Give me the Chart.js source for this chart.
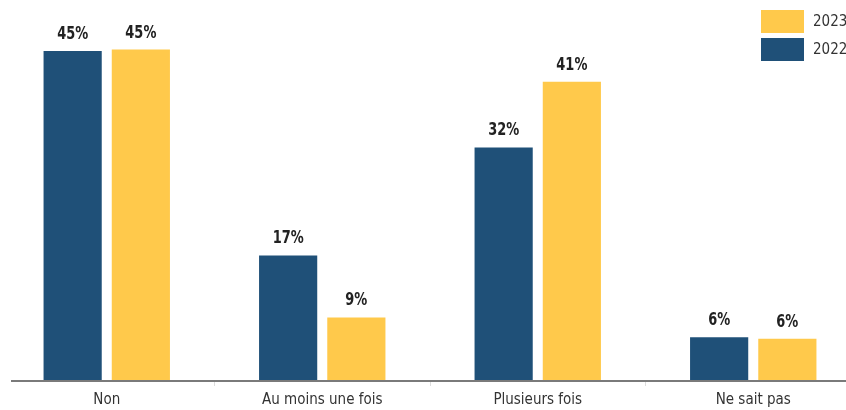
<!DOCTYPE html>
<html>
<head>
<meta charset="utf-8">
<script src="https://cdn.jsdelivr.net/npm/chart.js@4.4.0/dist/chart.umd.min.js"></script>
<style>
  html, body { margin: 0; padding: 0; background: #fff; }
  #wrap { position: relative; width: 846px; height: 410px; overflow: hidden; }
  #chart { position: absolute; left: -1px; top: 0; }
</style>
</head>
<body>
<div id="wrap"><canvas id="chart" width="862" height="410"></canvas></div>
<script>
// Chart data
const categories = ['Non', 'Au moins une fois', 'Plusieurs fois', 'Ne sait pas'];
const values2022 = [45.2, 17.2, 32, 6];
const values2023 = [45.4, 8.7, 41, 5.8];
const seriesNames = ['2022', '2023'];

const BLUE = '#1f5078';
const YELLOW = '#ffc94b';
const FONT = '"DejaVu Sans Condensed", "Liberation Sans Narrow", sans-serif';

// Values above bars (narrow bold look)
const valueLabels = {
    id: 'valueLabels',
    afterDatasetsDraw(chart) {
        const ctx = chart.ctx;
        ctx.save();
        ctx.font = 'bold 18px ' + FONT;
        ctx.fillStyle = '#222';
        ctx.textAlign = 'center';
        ctx.textBaseline = 'alphabetic';
        chart.data.datasets.forEach((ds, i) => {
            chart.getDatasetMeta(i).data.forEach((bar, j) => {
                ctx.save();
                ctx.translate(bar.x, bar.y - 12);
                ctx.scale(0.8, 1);
                ctx.fillText(Math.round(ds.data[j]) + '%', 0, 0);
                ctx.restore();
            });
        });
        ctx.restore();
    }
};

// Axis line and legend boxes top right
const extras = {
    id: 'extras',
    afterDraw(chart) {
        const ctx = chart.ctx;
        const y = chart.chartArea.bottom;
        ctx.save();
        ctx.strokeStyle = '#7a7a7a';
        ctx.lineWidth = 2;
        ctx.beginPath();
        ctx.moveTo(12, y);
        ctx.lineTo(chart.width, y);
        ctx.stroke();

        const items = [
            { name: seriesNames[1], color: YELLOW, top: 10 },
            { name: seriesNames[0], color: BLUE, top: 38 }
        ];
        ctx.font = '15px ' + FONT;
        ctx.textBaseline = 'middle';
        ctx.textAlign = 'left';
        items.forEach(it => {
            ctx.fillStyle = it.color;
            ctx.fillRect(762, it.top, 43, 23);
            ctx.fillStyle = '#333';
            ctx.fillText(it.name, 814, it.top + 12);
        });
        ctx.restore();
    }
};

new Chart(document.getElementById('chart'), {
    type: 'bar',
    data: {
        labels: categories,
        datasets: [
            { label: seriesNames[0], data: values2022, backgroundColor: BLUE },
            { label: seriesNames[1], data: values2023, backgroundColor: YELLOW }
        ]
    },
    options: {
        responsive: false,
        animation: false,
        categoryPercentage: 0.633,
        barPercentage: 0.853,
        layout: { padding: { top: 16, left: 0, right: 0, bottom: 0 } },
        plugins: { legend: { display: false }, tooltip: { enabled: false } },
        scales: {
            x: {
                grid: { drawOnChartArea: false, tickLength: 5, color: '#dddddd' },
                border: { display: false },
                ticks: { font: { family: FONT, size: 15 }, color: '#333', padding: 5 },
                afterFit(scale) { scale.height = 29; }
            },
            y: {
                display: false,
                min: 0,
                max: 50
            }
        }
    },
    plugins: [valueLabels, extras]
});
</script>
</body>
</html>
